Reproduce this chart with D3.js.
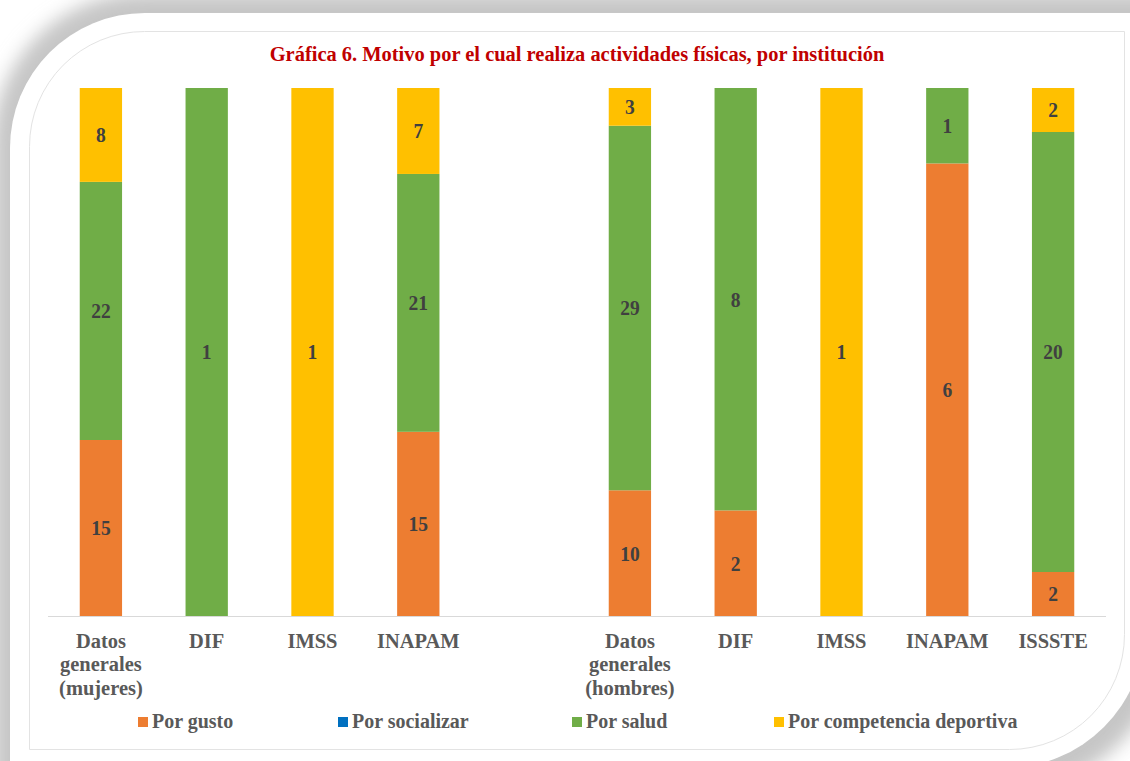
<!DOCTYPE html>
<html>
<head>
<meta charset="utf-8">
<script src="https://cdn.jsdelivr.net/npm/d3@7"></script>
<style>
  body { margin: 0; background: #fff; }
  svg { display: block; }
</style>
</head>
<body>
<div id="chart"></div>
<script>
// ---------- data ----------
var categories = [
    ["Datos", "generales", "(mujeres)"],
    ["DIF"],
    ["IMSS"],
    ["INAPAM"],
    [],
    ["Datos", "generales", "(hombres)"],
    ["DIF"],
    ["IMSS"],
    ["INAPAM"],
    ["ISSSTE"]
];
var seriesNames = ["Por gusto", "Por socializar", "Por salud", "Por competencia deportiva"];
var seriesColors = ["#ED7D31", "#0070C0", "#70AD47", "#FFC000"];
var porGusto       = [15, 0, 0, 15, null, 10, 2, 0, 6, 2];
var porSocializar  = [0, 0, 0, 0, null, 0, 0, 0, 0, 0];
var porSalud       = [22, 1, 0, 21, null, 29, 8, 0, 1, 20];
var porCompetencia = [8, 0, 1, 7, null, 3, 0, 1, 0, 2];

var width = 1130, height = 761;
var fontFamily = "'Liberation Serif', 'Times New Roman', serif";
var squeeze = " scale(0.93,1)";   // the original text is a bit tall and narrow

var svg = d3.select("#chart").append("svg")
    .attr("width", width)
    .attr("height", height);

// ---------- frame ----------
// path with rounded top-left and bottom-right corners only
function framePath(x0, y0, x1, y1, r0, r1) {
    return "M" + (x0 + r0) + "," + y0 + " L" + x1 + "," + y0 +
        " L" + x1 + "," + (y1 - r1) +
        " A" + r1 + "," + r1 + " 0 0 1 " + (x1 - r1) + "," + y1 +
        " L" + x0 + "," + y1 +
        " L" + x0 + "," + (y0 + r0) +
        " A" + r0 + "," + r0 + " 0 0 1 " + (x0 + r0) + "," + y0 + " Z";
}

var defs = svg.append("defs");
defs.append("filter")
    .attr("id", "blur")
    .attr("x", "-20%").attr("y", "-20%")
    .attr("width", "140%").attr("height", "140%")
    .append("feGaussianBlur")
    .attr("stdDeviation", 9);

svg.append("path")
    .attr("d", framePath(-7, -7, 1168, 792, 150, 165))
    .attr("fill", "#c6c6c6")
    .style("filter", "url(#blur)");

svg.append("path")
    .attr("d", framePath(10, 13, 1145, 768, 135, 140))
    .attr("fill", "#fff");

svg.append("path")
    .attr("d", framePath(29.5, 31.5, 1124.5, 749.5, 115, 115))
    .attr("fill", "none")
    .attr("stroke", "#e3e3e3")
    .attr("stroke-width", 1);

// ---------- title ----------
svg.append("text")
    .attr("transform", "translate(577,61)" + squeeze)
    .attr("text-anchor", "middle")
    .style("font-family", fontFamily)
    .style("font-weight", "bold")
    .style("font-size", "22px")
    .style("fill", "#C00000")
    .text("Gráfica 6. Motivo por el cual realiza actividades físicas, por institución");

// ---------- scales ----------
var plotLeft = 48, plotRight = 1106, plotTop = 88, plotBottom = 616;

var table = categories.map(function(c, i) {
    return {
        key: "c" + i,
        label: c,
        "Por gusto": porGusto[i] || 0,
        "Por socializar": porSocializar[i] || 0,
        "Por salud": porSalud[i] || 0,
        "Por competencia deportiva": porCompetencia[i] || 0,
        empty: porGusto[i] === null
    };
});

var x = d3.scaleBand()
    .domain(table.map(function(d) { return d.key; }))
    .range([plotLeft, plotRight])
    .paddingInner(0.6)
    .paddingOuter(0.3);

var y = d3.scaleLinear()
    .domain([0, 1])
    .range([plotBottom, plotTop]);

var color = d3.scaleOrdinal().domain(seriesNames).range(seriesColors);

var stacked = d3.stack()
    .keys(seriesNames)
    .offset(d3.stackOffsetExpand)(table.filter(function(d) { return !d.empty; }));

// ---------- bars ----------
var layers = svg.append("g")
    .selectAll("g")
    .data(stacked)
    .enter()
    .append("g")
        .attr("fill", function(s) { return color(s.key); });

layers.selectAll("rect")
    .data(function(s) { return s; })
    .enter()
    .append("rect")
        .attr("x", function(d) { return x(d.data.key); })
        .attr("width", x.bandwidth())
        .attr("y", function(d) { return y(d[1]); })
        .attr("height", function(d) { return Math.max(0, y(d[0]) - y(d[1])); });

// data labels
layers.each(function(s) {
    d3.select(this).selectAll("text")
        .data(s.filter(function(d) { return d.data[s.key] > 0; }))
        .enter()
        .append("text")
            .attr("transform", function(d) {
                return "translate(" + (x(d.data.key) + x.bandwidth() / 2) + "," + ((y(d[0]) + y(d[1])) / 2) + ")" + squeeze;
            })
            .attr("dy", "0.35em")
            .attr("text-anchor", "middle")
            .style("font-family", fontFamily)
            .style("font-weight", "bold")
            .style("font-size", "21px")
            .style("fill", "#404040")
            .text(function(d) { return d.data[s.key]; });
});

// ---------- axis ----------
var xAxis = svg.append("g")
    .attr("transform", "translate(0," + plotBottom + ")")
    .call(d3.axisBottom(x).tickSize(0).tickFormat(""));

xAxis.select(".domain")
    .attr("stroke", "#d9d9d9")
    .attr("d", "M" + plotLeft + ",0.5H" + plotRight);

xAxis.selectAll(".tick").each(function(k) {
    var lines = table.find(function(d) { return d.key === k; }).label;
    var t = d3.select(this).append("text")
        .attr("transform", "translate(0,32)" + squeeze)
        .attr("text-anchor", "middle")
        .style("font-family", fontFamily)
        .style("font-weight", "bold")
        .style("font-size", "22px")
        .style("fill", "#595959");
    lines.forEach(function(l, i) {
        t.append("tspan")
            .attr("x", 0)
            .attr("dy", i === 0 ? 0 : 23.3)
            .text(l);
    });
});

// ---------- legend ----------
var legendX = [138, 338, 572, 774];
var legend = svg.append("g")
    .selectAll("g")
    .data(seriesNames)
    .enter()
    .append("g")
        .attr("transform", function(d, i) { return "translate(" + legendX[i] + ",717)"; });

legend.append("rect")
    .attr("width", 10)
    .attr("height", 10)
    .attr("fill", function(d) { return color(d); });

legend.append("text")
    .attr("transform", "translate(14,11)" + squeeze)
    .style("font-family", fontFamily)
    .style("font-weight", "bold")
    .style("font-size", "21.5px")
    .style("fill", "#595959")
    .text(function(d) { return d; });
</script>
</body>
</html>
